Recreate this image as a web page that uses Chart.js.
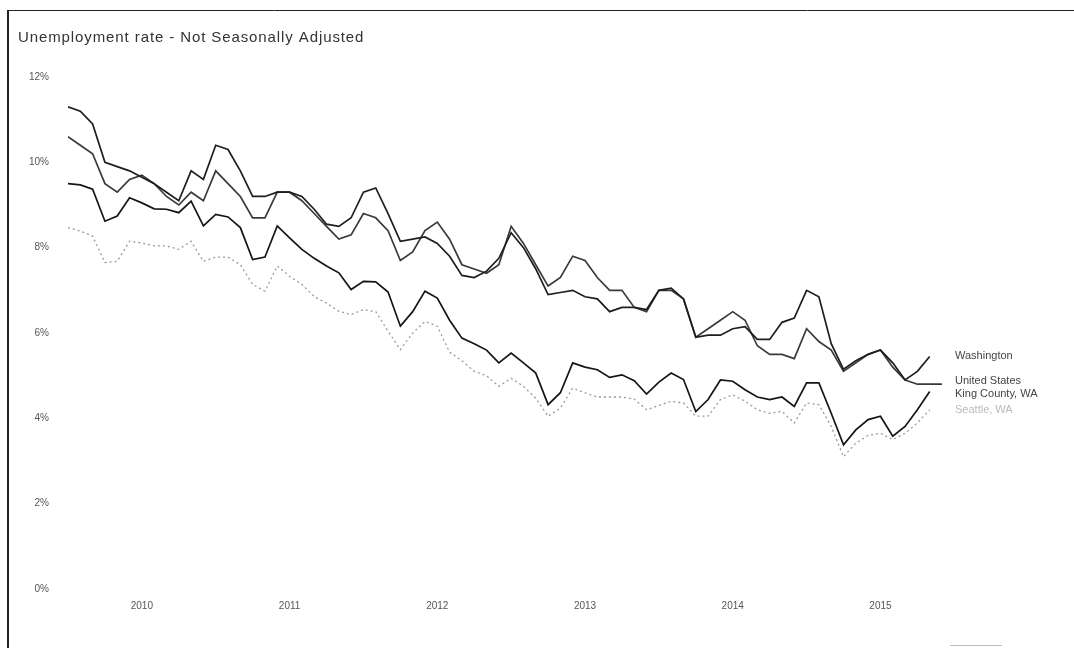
<!DOCTYPE html>
<html>
<head>
<meta charset="utf-8">
<title>Unemployment rate - Not Seasonally Adjusted</title>
<script src="https://cdn.jsdelivr.net/npm/chart.js@4.4.1/dist/chart.umd.min.js"></script>
<style>
  html, body { margin: 0; padding: 0; background: #fff; }
  #wrap { width: 1074px; height: 648px; }
</style>
</head>
<body>
<div id="wrap"><canvas id="canvas" width="1074" height="648"></canvas></div>
<script>
// months Jan 2010 .. Dec 2015 (index 0..71)
const months = [];
for (let yr = 2010; yr <= 2015; yr++) {
  for (let mo = 1; mo <= 12; mo++) months.push(yr + '-' + String(mo).padStart(2, '0'));
}

const yearLabels = ['2010', '2011', '2012', '2013', '2014', '2015'];
const yearTickMonth = [6, 18, 30, 42, 54, 66]; // July of each year
const yTickValues = [0, 2, 4, 6, 8, 10, 12];

const washington = [
  11.3, 11.2, 10.9, 10.0, 9.9, 9.8, 9.65, 9.5, 9.3, 9.1, 9.8, 9.6,
  10.4, 10.3, 9.8, 9.2, 9.2, 9.3, 9.3, 9.2, 8.9, 8.55, 8.5, 8.7,
  9.3, 9.4, 8.8, 8.15, 8.2, 8.25, 8.1, 7.8, 7.35, 7.3, 7.45, 7.75,
  8.35, 8.0, 7.5, 6.9, 6.95, 7.0, 6.85, 6.8, 6.5, 6.6, 6.6, 6.55,
  7.0, 7.05, 6.8, 5.9, 5.95, 5.95, 6.1, 6.15, 5.85, 5.85, 6.25, 6.35,
  7.0, 6.85, 5.75, 5.15, 5.35, 5.5, 5.6, 5.3, 4.9, 5.1, 5.45, null
];

const unitedStates = [
  10.6, 10.4, 10.2, 9.5, 9.3, 9.6, 9.7, 9.5, 9.2, 9.0, 9.3, 9.1,
  9.8, 9.5, 9.2, 8.7, 8.7, 9.3, 9.3, 9.1, 8.8, 8.5, 8.2, 8.3,
  8.8, 8.7, 8.4, 7.7, 7.9, 8.4, 8.6, 8.2, 7.6, 7.5, 7.4, 7.6,
  8.5, 8.1, 7.6, 7.1, 7.3, 7.8, 7.7, 7.3, 7.0, 7.0, 6.6, 6.5,
  7.0, 7.0, 6.8, 5.9, 6.1, 6.3, 6.5, 6.3, 5.7, 5.5, 5.5, 5.4,
  6.1, 5.8, 5.6, 5.1, 5.3, 5.5, 5.6, 5.2, 4.9, 4.8, 4.8, 4.8
];

const kingCounty = [
  9.5, 9.47, 9.37, 8.62, 8.74, 9.17, 9.05, 8.91, 8.9, 8.82, 9.09, 8.51,
  8.78, 8.72, 8.47, 7.72, 7.78, 8.51, 8.23, 7.96, 7.75, 7.57, 7.41, 7.02,
  7.21, 7.2, 6.96, 6.16, 6.5, 6.98, 6.82, 6.3, 5.88, 5.75, 5.6, 5.3,
  5.53, 5.3, 5.06, 4.32, 4.6, 5.3, 5.2, 5.14, 4.96, 5.02, 4.88, 4.57,
  4.85, 5.06, 4.91, 4.16, 4.44, 4.9, 4.87, 4.67, 4.5, 4.44, 4.5, 4.28,
  4.83, 4.83, 4.12, 3.38, 3.73, 3.97, 4.05, 3.58, 3.81, 4.2, 4.63, null
];

const seattle = [
  8.47, 8.39, 8.27, 7.65, 7.68, 8.15, 8.11, 8.04, 8.04, 7.96, 8.15, 7.68,
  7.78, 7.78, 7.6, 7.14, 6.98, 7.57, 7.33, 7.14, 6.85, 6.7, 6.51, 6.43,
  6.55, 6.5, 6.04, 5.61, 6.0, 6.27, 6.16, 5.55, 5.35, 5.1, 5.0, 4.75,
  4.94, 4.75, 4.47, 4.05, 4.24, 4.71, 4.6, 4.5, 4.5, 4.5, 4.45, 4.2,
  4.3, 4.4, 4.36, 4.05, 4.05, 4.44, 4.55, 4.4, 4.2, 4.12, 4.16, 3.89,
  4.36, 4.32, 3.81, 3.1, 3.42, 3.6, 3.65, 3.5, 3.65, 3.89, 4.2, null
];

const seriesNames = ['Washington', 'United States', 'King County, WA', 'Seattle, WA'];

function toPoints(arr) {
  return arr.map((v, i) => ({ x: i, y: v }));
}

const framePlugin = {
  id: 'frame',
  beforeDraw(chart) {
    const c = chart.ctx;
    c.save();
    c.fillStyle = '#fff';
    c.fillRect(0, 0, chart.width, chart.height);
    c.strokeStyle = '#222';
    c.lineWidth = 1;
    c.beginPath();
    c.moveTo(8, 10.5);
    c.lineTo(chart.width, 10.5);
    c.stroke();
    c.lineWidth = 2;
    c.beginPath();
    c.moveTo(8, 10);
    c.lineTo(8, chart.height);
    c.stroke();
    c.strokeStyle = '#bbb';
    c.lineWidth = 1;
    c.beginPath();
    c.moveTo(950, 645.5);
    c.lineTo(1002, 645.5);
    c.stroke();
    // title
    c.fillStyle = '#333';
    c.font = '15px "Liberation Sans", Arial, sans-serif';
    c.letterSpacing = '0.9px';
    c.textBaseline = 'alphabetic';
    c.textAlign = 'left';
    c.fillText('Unemployment rate - Not Seasonally Adjusted', 18, 42);
    c.restore();
  }
};

const endLabelPlugin = {
  id: 'endLabels',
  afterDatasetsDraw(chart) {
    const c = chart.ctx;
    const ys = chart.scales.y;
    const items = chart.data.datasets.map((ds, i) => {
      let last = null;
      for (const p of ds.data) if (p.y !== null) last = p.y;
      return { name: seriesNames[i], y: ys.getPixelForValue(last), color: i === 3 ? '#bbb' : '#444' };
    });
    items.sort((a, b) => a.y - b.y);
    const gap = 13;
    for (let k = 0; k < 30; k++) {
      for (let i = 1; i < items.length; i++) {
        const d = items[i].y - items[i - 1].y;
        if (d < gap) {
          const s = (gap - d) / 2;
          items[i - 1].y -= s;
          items[i].y += s;
        }
      }
    }
    c.save();
    c.font = '11px "Liberation Sans", Arial, sans-serif';
    c.textAlign = 'left';
    c.textBaseline = 'middle';
    items.forEach(it => {
      c.fillStyle = it.color;
      c.fillText(it.name, 955, it.y);
    });
    c.restore();
  }
};

const ctx = document.getElementById('canvas').getContext('2d');
new Chart(ctx, {
  type: 'line',
  data: {
    datasets: [
      { label: seriesNames[0], data: toPoints(washington), borderColor: '#1e1e1e', borderWidth: 1.7 },
      { label: seriesNames[1], data: toPoints(unitedStates), borderColor: '#3a3a3a', borderWidth: 1.7 },
      { label: seriesNames[2], data: toPoints(kingCounty), borderColor: '#151515', borderWidth: 1.7 },
      { label: seriesNames[3], data: toPoints(seattle), borderColor: '#9a9a9a', borderWidth: 1.3, borderDash: [2, 3] }
    ]
  },
  options: {
    responsive: false,
    devicePixelRatio: 1,
    animation: false,
    spanGaps: false,
    elements: {
      point: { radius: 0, hoverRadius: 0 },
      line: { tension: 0, fill: false }
    },
    layout: { padding: { left: 8, right: 132, top: 77, bottom: 0 } },
    plugins: {
      legend: { display: false },
      title: { display: false },
      tooltip: { enabled: false }
    },
    scales: {
      x: {
        type: 'linear',
        min: 0,
        max: months.length - 1,
        grid: { display: false },
        border: { display: false },
        afterBuildTicks(axis) {
          axis.ticks = yearTickMonth.map(v => ({ value: v }));
        },
        afterFit(axis) { axis.height = 59; },
        ticks: {
          autoSkip: false,
          maxRotation: 0,
          padding: 3,
          color: '#555',
          font: { size: 10, family: '"Liberation Sans", Arial, sans-serif' },
          callback(v) {
            const i = yearTickMonth.indexOf(v);
            return i >= 0 ? yearLabels[i] : '';
          }
        }
      },
      y: {
        min: 0,
        max: 12,
        grid: { display: false },
        border: { display: false },
        afterBuildTicks(axis) {
          axis.ticks = yTickValues.map(v => ({ value: v }));
        },
        afterFit(axis) { axis.width = 60; },
        ticks: {
          padding: 11,
          color: '#555',
          font: { size: 10, family: '"Liberation Sans", Arial, sans-serif' },
          callback(v) { return v + '%'; }
        }
      }
    }
  },
  plugins: [framePlugin, endLabelPlugin]
});
</script>
</body>
</html>
